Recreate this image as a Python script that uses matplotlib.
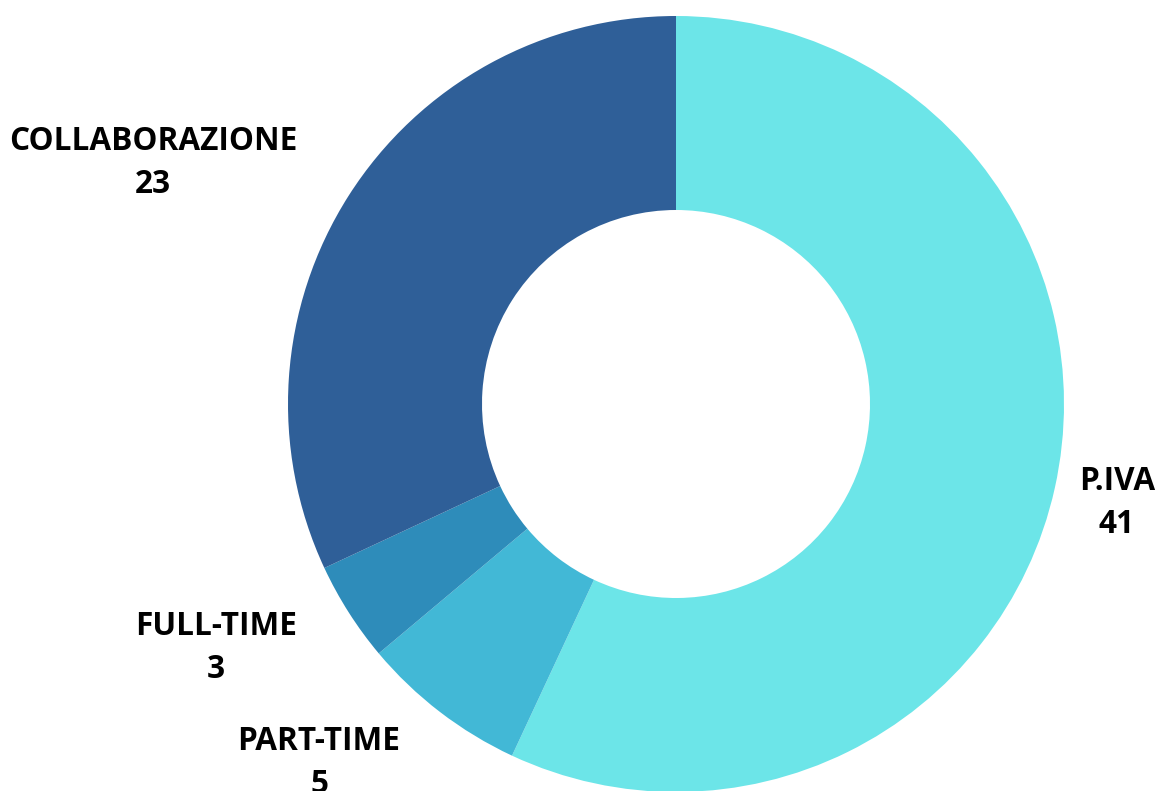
import matplotlib.pyplot as plt

# Data
categories = ["P.IVA", "PART-TIME", "FULL-TIME", "COLLABORAZIONE"]
values = [41, 5, 3, 23]
colors = ["#6ce5e8", "#42b8d6", "#2e8cba", "#2f5f98"]

# label centres in pixel coordinates (from top-left)
label_pos = [(1117, 503), (319, 763), (216, 648), (153, 163)]

W, H = 1160, 791
fig = plt.figure(figsize=(W / 100, H / 100), dpi=100)
ax = fig.add_axes([0, 0, 1, 1])
ax.set_xlim(0, W)
ax.set_ylim(0, H)
ax.set_aspect("equal")
ax.axis("off")

# donut
ax.pie(values, colors=colors, startangle=90, counterclock=False,
       center=(676, H - 404), radius=388,
       wedgeprops=dict(width=194, linewidth=0))
ax.set_xlim(0, W)
ax.set_ylim(0, H)

# labels
for cat, val, (x, y) in zip(categories, values, label_pos):
    ax.text(x, H - y, f"{cat}\n{val}", ha="center", va="center",
            fontsize=22.7, fontweight="bold", family="Open Sans",
            linespacing=1.42, color="black")

fig.savefig("out.png", dpi=100)
